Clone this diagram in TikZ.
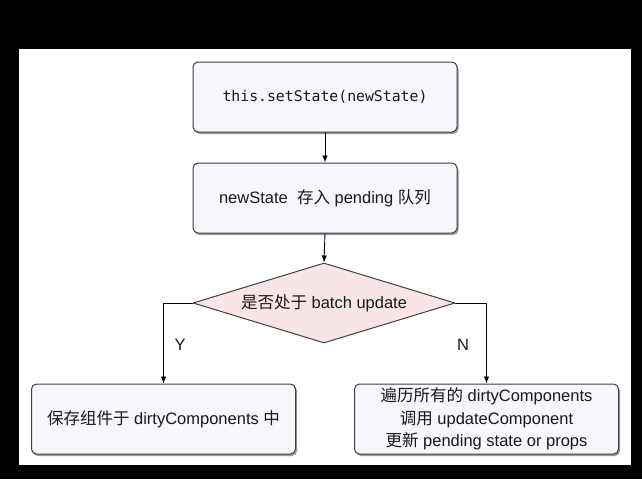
\documentclass[tikz,border=0pt]{standalone}
\usepackage{fontspec}
\setmainfont{Liberation Sans}
\setmonofont{DejaVu Sans Mono}
\newfontfamily\cjk{Noto Sans CJK SC}
\usetikzlibrary{shapes.geometric,shadows,arrows.meta}
\definecolor{boxfill}{HTML}{F6F6FB}
\definecolor{diafill}{HTML}{F9E4E8}
\definecolor{edgegray}{HTML}{404040}

\begin{document}
\begin{tikzpicture}[x=1pt,y=-1pt,line cap=round,line join=round,
  flowbox/.style={draw=edgegray,line width=1pt,fill=boxfill,rounded corners=5pt,
    minimum width=264pt,minimum height=70pt,inner sep=0pt,align=center,
    drop shadow={shadow xshift=1.5pt,shadow yshift=-2pt,fill=black!55,opacity=0.7},
    font=\fontsize{16.5}{22.5}\selectfont,text=black!90},
  decision/.style={diamond,draw=edgegray,line width=1pt,fill=diafill,aspect=3.3,
    minimum width=262pt,minimum height=80pt,inner sep=0pt,
    font=\fontsize{16.5}{20}\selectfont,text=black!90},
  flow/.style={line width=0.9pt,-{Latex[length=7pt,width=5.5pt]}}]
  % screen frame
  \useasboundingbox (0,0) rectangle (642,479);
  \fill[black] (0,0) rectangle (642,479);
  \fill[white] (19,49) rectangle (631,465);
  % steps
  \node[flowbox,font=\ttfamily\fontsize{14.8}{18}\selectfont] (call) at (325,97) {this.setState(newState)};
  \node[flowbox] (queue) at (325,198) {newState \ {\cjk 存入} pending {\cjk 队列}};
  \node[decision] (batch) at (324,303) {{\cjk 是否处于} batch update};
  \node[flowbox] (dirty) at (163.5,419) {{\cjk 保存组件于} dirtyComponents {\cjk 中}};
  \node[flowbox] (flush) at (486.5,419) {{\cjk 遍历所有的} dirtyComponents\\
    {\cjk 调用} updateComponent\\
    {\cjk 更新} pending state or props};
  % connectors
  \draw[flow] (call.south) -- (queue.north);
  \draw[flow] (queue.south) -- (batch.north);
  \draw[flow] (batch.west) -| (dirty.north);
  \draw[flow] (batch.east) -| (flush.north);
  \node[font=\fontsize{16.5}{20}\selectfont,text=black!90] (yes) at (180,345) {Y};
  \node[font=\fontsize{16.5}{20}\selectfont,text=black!90] (no) at (463,345) {N};
\end{tikzpicture}
\end{document}
